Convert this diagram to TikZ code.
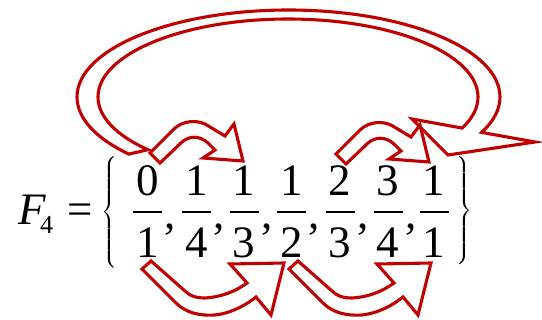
\documentclass[tikz,border=0pt]{standalone}
\usepackage{fontspec}
\setmainfont{Liberation Serif}
\usepackage{graphicx}
\definecolor{arrowred}{RGB}{192,0,0}
\tikzset{
  blockarrow/.style={draw=arrowred, fill=white, line width=3.1pt, line join=miter},
  bigtxt/.style={inner sep=0pt, anchor=base, font=\fontsize{45}{54}\selectfont},
  subtxt/.style={inner sep=0pt, anchor=base, font=\fontsize{26}{30}\selectfont},
  fracbar/.style={line width=2pt},
  bracenode/.style={inner sep=0pt},
  smallarr/.pic={
    \draw[blockarrow] (150,153) -- (174,129) .. controls (182,121) and (198,118) .. (210,127)
      -- (225,136) -- (234,124) -- (243,161) -- (203,158) -- (215,150) -- (208,143)
      .. controls (199,135) and (189,136) .. (182,142) -- (160,163) -- cycle;
  },
  bottomarr/.pic={
    \draw[blockarrow] (142,269) -- (176,303) .. controls (186,313) and (200,316) .. (215,315)
      .. controls (232,313) and (246,305) .. (256,297) -- (271,315) -- (284,263) -- (230,264)
      -- (247,283) .. controls (236,291) and (222,297) .. (205,298)
      .. controls (196,298) and (190,296) .. (185,291) -- (151,261) -- cycle;
  }
}
\begin{document}
\begin{tikzpicture}[x=1pt,y=-1pt]
\useasboundingbox (0,0) rectangle (542,320);
% big arrow from 0/1 over the top into 1/1
\draw[blockarrow] (128.9,154.1)
  .. controls (95.4,138.3) and (77,118) .. (77,97)
  .. controls (77,49) and (171.7,10) .. (288.5,10)
  .. controls (405.3,10) and (500,49) .. (500,97)
  .. controls (500,109.2) and (493.7,121.3) .. (481.7,132.4)
  -- (535,142) -- (448,155) -- (412,119) -- (462.2,128.1)
  .. controls (472.6,118.3) and (478,107.7) .. (478,97)
  .. controls (478,53.9) and (392.9,19) .. (288,19)
  .. controls (183.1,19) and (98,53.9) .. (98,97)
  .. controls (98,116.5) and (115.8,135.3) .. (147.9,149.7)
  -- cycle;
% small upper arrows
\pic at (0,0) {smallarr};
\pic at (186,1) {smallarr};
% lower arrows
\pic at (0,0) {bottomarr};
\pic at (147,0) {bottomarr};
% formula
\node[bigtxt] (F) at (32,225) {\itshape F};
\node[subtxt] (sub) at (46.5,234) {4};
\node[bigtxt] (eq) at (80,225) {=};
\node[bracenode] (lb) at (111,212.5) {\resizebox*{18pt}{111pt}{$\left\{\vcenter{\hbox{\rule{0pt}{6em}}}\right.$}};
\node[bracenode] (rb) at (463,211) {\resizebox*{18pt}{108pt}{$\left.\vcenter{\hbox{\rule{0pt}{6em}}}\right\}$}};
\foreach \x/\n/\d/\i in {147.5/0/1/1, 196.5/1/4/2, 244/1/3/3, 291.5/1/2/4, 340/2/3/5, 388/3/4/6, 434/1/1/7} {
  \node[bigtxt] (num\i) at (\x,196) {\n};
  \node[bigtxt] (den\i) at (\x,258) {\d};
  \draw[fracbar] (\x-14.5,212) -- (\x+14.5,212);
}
\foreach \x/\i in {170.5/1, 219.5/2, 267/3, 314.5/4, 363/5, 411/6} {
  \node[bigtxt] (c\i) at (\x,229) {,};
}
\end{tikzpicture}
\end{document}
